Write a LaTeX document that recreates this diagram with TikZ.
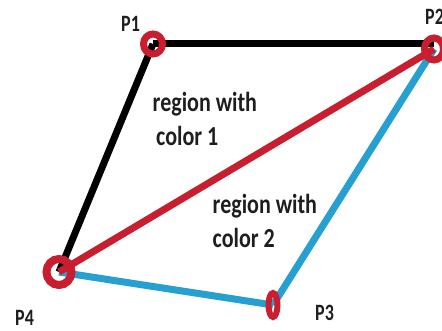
\documentclass[tikz,border=0pt]{standalone}
\usepackage{graphicx}
\usepackage{fontspec}
\setmainfont{Carlito}
\definecolor{ptred}{RGB}{200,30,48}
\definecolor{ptblue}{RGB}{38,160,208}
\definecolor{txtgray}{RGB}{30,30,30}
\newcommand{\tallP}[1]{\scalebox{1}[1.3]{#1}}
\newcommand{\tallR}[2]{\scalebox{1}[1.25]{\begin{tabular}[t]{@{}l@{}}#1\\#2\end{tabular}}}
\begin{document}
\begin{tikzpicture}[x=1pt,y=-1pt,
  edge/.style={line width=7pt},
  ring/.style={draw=ptred,line width=7pt},
  lbl/.style={text=txtgray,font=\bfseries\fontsize{18}{22}\selectfont,inner sep=0pt,anchor=base west},
  reg/.style={text=txtgray,font=\bfseries\fontsize{22}{27.2}\selectfont,inner sep=0pt,anchor=base west}]
\useasboundingbox (0,0) rectangle (442,331);
\coordinate (P1) at (153,44);
\coordinate (P2) at (434,49);
\coordinate (P3) at (273,305);
\coordinate (P4) at (59,272);
\draw[edge,black] (P1) -- (P1 -| P2);
\draw[edge,black] (P1) -- (P4);
\draw[edge,ptblue] (P4) -- (P3);
\draw[edge,ptblue] (P3) -- (P2);
\draw[edge,ptred] (P4) -- (P2);
\draw[ring] (P1) circle [x radius=9.5, y radius=10];
\draw[ring] (P2) circle [x radius=9.5, y radius=11];
\draw[ring,line width=8pt] (P4) circle [x radius=12.5, y radius=13];
\draw[ring,line width=6pt] (P3) circle [x radius=4.5, y radius=12];
\node[lbl] (l1) at (121,32) {\tallP{P1}};
\node[lbl] (l2) at (425,25) {\tallP{P2}};
\node[lbl] (l3) at (315,320) {\tallP{P3}};
\node[lbl] (l4) at (15,325) {\tallP{P4}};
\node[reg] (r1) at (152.5,111.5) {\tallR{region with}{\hspace*{3.5pt}color 1}};
\node[reg] (r2) at (212.5,214) {\tallR{region with}{color 2}};
\end{tikzpicture}
\end{document}
